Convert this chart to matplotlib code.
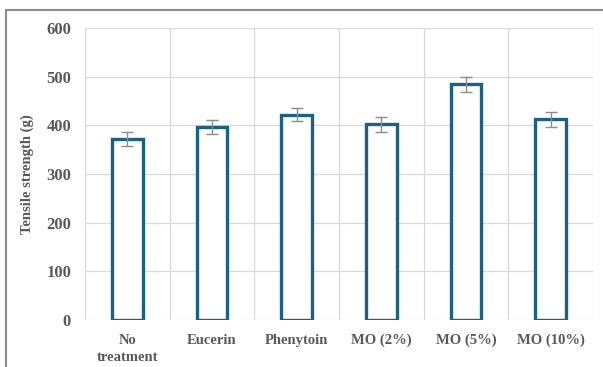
import numpy as np
import matplotlib.pyplot as plt
from matplotlib.patches import Rectangle

categories = ["No\ntreatment", "Eucerin", "Phenytoin", "MO (2%)", "MO (5%)", "MO (10%)"]
strength = [372, 396, 422, 402, 484, 412]
errors = [14, 14, 14, 15, 15, 15]
yticks = [0, 100, 200, 300, 400, 500, 600]

W, H = 603, 367
fig = plt.figure(figsize=(W / 100, H / 100), dpi=100)
ax = fig.add_axes([85 / W, 1 - 320 / H, (593 - 85) / W, (320 - 28) / H])

plt.rcParams['font.family'] = ['Liberation Serif', 'DejaVu Serif']
text_color = '#595959'
bar_color = '#1B6185'

x = np.arange(len(categories))
ax.bar(x, strength, width=0.36, facecolor='white', edgecolor=bar_color,
       linewidth=2.4, zorder=3)
ax.errorbar(x, strength, yerr=errors, fmt='none', ecolor='#8c8c8c',
            elinewidth=1.0, capsize=4, capthick=1.0, zorder=4)

ax.set_xlim(-0.5, len(categories) - 0.5)
ax.set_ylim(0, 600)
ax.set_yticks(yticks)
ax.set_yticklabels([str(t) for t in yticks], fontsize=12, fontweight='bold',
                   color=text_color, family=['Liberation Serif'])
ax.set_xticks(x)
ax.set_xticklabels(categories, fontsize=10.5, fontweight='bold', color=text_color,
                   family=['Liberation Serif'], linespacing=1.45, va='top')
ax.tick_params(axis='y', length=0, pad=10)
ax.tick_params(axis='x', length=0, pad=10)

# grid: horizontal at ticks, vertical at category boundaries
for t in yticks:
    ax.axhline(t, color='#d9d9d9', linewidth=0.9, zorder=1)
for b in np.arange(-0.5, len(categories), 1.0):
    ax.axvline(b, color='#d9d9d9', linewidth=0.9, zorder=1)
for s in ax.spines.values():
    s.set_visible(False)

ax.set_ylabel("Tensile strength (g)", fontsize=10.5, fontweight='bold',
              color=text_color, family=['Liberation Serif'], labelpad=9)

# outer chart border
fig.patches.append(Rectangle((6 / W, -0.1), 1.2, 1 - 10 / H + 0.1,
                             transform=fig.transFigure, fill=False,
                             edgecolor='#8c8c8c', linewidth=1.5))

fig.savefig("out.png", dpi=100)
